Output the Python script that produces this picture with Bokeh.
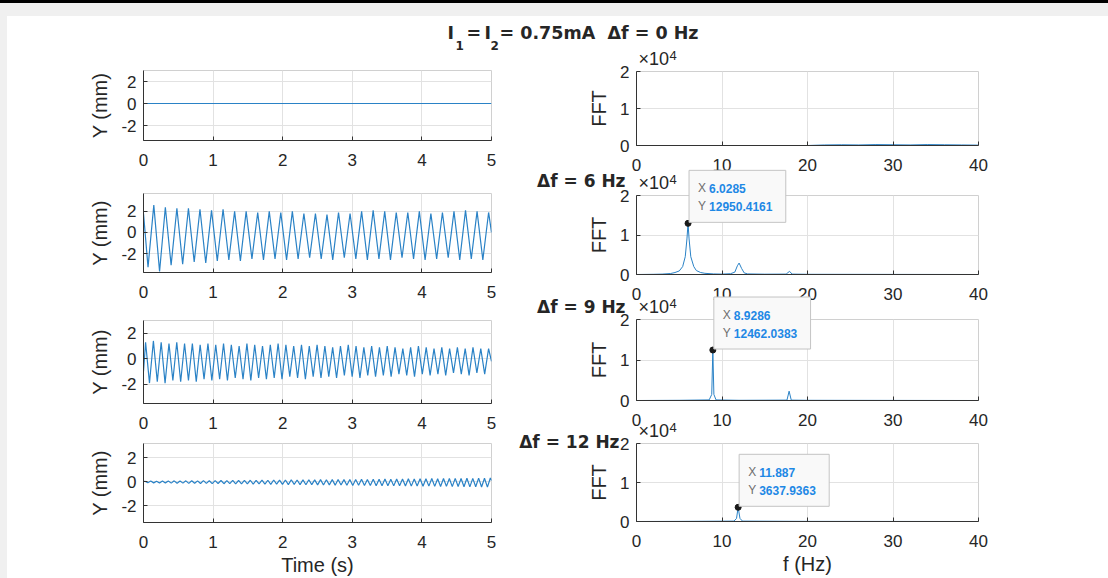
from bokeh.plotting import figure
from bokeh.models import FixedTicker, Label, Range1d
from bokeh.layouts import column
from bokeh.embed import file_html
from bokeh.resources import INLINE

# ---------------- data ----------------
time_ticks = [0, 1, 2, 3, 4, 5]
y_ticks = [-2, 0, 2]
y_tick_labels = ["-2", "0", "2"]
freq_ticks = [0, 10, 20, 30, 40]
fft_ticks = [0, 10000, 20000]
fft_tick_labels = ["0", "1", "2"]

title_parts = ["I", "1", "=", "I", "2", "= 0.75mA\u00a0\u00a0\u0394f = 0 Hz"]
delta_f_labels = ["\u0394f = 6 Hz", "\u0394f = 9 Hz", "\u0394f = 12 Hz"]

# time-domain rows: signal frequency (Hz) read from the oscillation count
sig_freq = [6.0285, 8.9286, 11.887]

# row 1 (df = 0 Hz): flat
t_row1 = [0, 5]
y_row1 = [0, 0]

# row 2 (df = 6 Hz): extrema values
start2, end2 = 1.8, 0.0
first_trough2, first_peak2 = 0.065, 0.148
peaks2 = [2.6, 2.4, 2.3, 2.3, 2.2, 2.1, 2.2, 2.0, 2.0, 1.9, 2.0, 1.9, 2.0, 1.8, 1.8,
          1.7, 1.9, 1.8, 2.0, 2.1, 2.0, 1.9, 1.9, 2.0, 1.8, 1.9, 2.0, 2.1, 2.0, 1.9]
troughs2 = [-3.3, -3.7, -3.1, -3.0, -2.8, -2.9, -2.7, -2.6, -2.7, -2.5, -2.6, -2.5, -2.6, -2.5, -2.4,
            -2.5, -2.6, -2.4, -2.5, -2.6, -2.5, -2.6, -2.4, -2.5, -2.6, -2.5, -2.4, -2.6, -2.5, -2.6]

# row 3 (df = 9 Hz)
start3, end3 = -1.0, -0.2
first_peak3, first_trough3 = 0.03, 0.086
peaks3 = [1.3, 1.4, 1.3, 1.2, 1.3, 1.2, 1.2, 1.1, 1.2, 1.1, 1.2, 1.1, 1.0, 1.2, 1.1,
          1.0, 1.1, 1.2, 1.1, 1.0, 1.1, 1.0, 1.1, 1.0, 0.9, 1.0, 1.1, 1.0, 0.9, 1.0,
          0.9, 1.0, 0.9, 0.8, 0.9, 1.0, 0.9, 0.8, 0.9, 0.8, 0.9, 0.8, 0.9, 0.8, 0.8]
troughs3 = [-1.9, -1.8, -1.9, -1.7, -1.8, -1.7, -1.8, -1.6, -1.7, -1.6, -1.7, -1.5, -1.6, -1.7, -1.5,
            -1.6, -1.5, -1.6, -1.4, -1.5, -1.6, -1.4, -1.5, -1.4, -1.5, -1.3, -1.4, -1.5, -1.3, -1.4,
            -1.3, -1.4, -1.2, -1.3, -1.4, -1.2, -1.3, -1.2, -1.3, -1.1, -1.2, -1.3, -1.1, -1.2]

# row 4 (df = 12 Hz)
start4, end4 = 0.0, 0.1
first_peak4, first_trough4 = 0.02, 0.062
peaks4 = [0.05, 0.06, 0.05, 0.07, 0.06, 0.08, 0.07, 0.08, 0.09, 0.08, 0.10, 0.09, 0.10, 0.11, 0.10,
          0.12, 0.11, 0.12, 0.13, 0.12, 0.14, 0.13, 0.15, 0.14, 0.15, 0.17, 0.15, 0.16, 0.17, 0.16,
          0.18, 0.17, 0.18, 0.19, 0.18, 0.20, 0.19, 0.21, 0.20, 0.22, 0.21, 0.23, 0.22, 0.24, 0.23,
          0.25, 0.24, 0.26, 0.25, 0.27, 0.26, 0.28, 0.27, 0.29, 0.28, 0.30, 0.29, 0.31, 0.30, 0.32]
troughs4 = [-0.08, -0.09, -0.10, -0.09, -0.11, -0.12, -0.11, -0.13, -0.12, -0.14, -0.13, -0.15, -0.14, -0.16, -0.15,
            -0.17, -0.18, -0.17, -0.19, -0.18, -0.20, -0.21, -0.20, -0.22, -0.24, -0.22, -0.23, -0.25, -0.24, -0.26,
            -0.27, -0.26, -0.28, -0.27, -0.29, -0.30, -0.29, -0.31, -0.30, -0.32, -0.33, -0.32, -0.34, -0.33, -0.35,
            -0.36, -0.35, -0.37, -0.36, -0.38, -0.39, -0.38, -0.40, -0.39, -0.41, -0.42, -0.41, -0.43, -0.44]

# FFT spectra (frequency Hz, magnitude)
f_fft1 = [0, 5, 10, 15, 20, 22, 24, 26, 28, 30, 32, 34, 36, 38, 40]
a_fft1 = [0, 0, 0, 0, 0, 150, 200, 150, 250, 200, 150, 250, 200, 150, 100]
f_fft2 = [0, 2, 3, 4, 4.5, 5, 5.4, 5.7, 5.9, 6.0285, 6.15, 6.35, 6.7, 7, 7.5, 8, 9, 10, 11, 11.5,
          11.8, 12.0, 12.3, 12.6, 13, 15, 17.5, 17.9, 18.2, 20, 40]
a_fft2 = [0, 50, 100, 250, 500, 900, 2000, 4500, 9000, 12950.4161, 9000, 4500, 2000, 1000, 500, 300, 150, 100, 200, 600,
          2200, 2900, 1500, 400, 150, 80, 100, 800, 100, 50, 0]
f_fft3 = [0, 5, 8.5, 8.8, 8.9286, 9.05, 9.3, 12, 17.6, 17.85, 18.1, 20, 40]
a_fft3 = [0, 50, 150, 1500, 12462.0383, 1500, 150, 50, 100, 2300, 100, 50, 0]
f_fft4 = [0, 5, 11.4, 11.7, 11.887, 12.1, 12.4, 20, 40]
a_fft4 = [0, 30, 100, 800, 3637.9363, 800, 100, 30, 0]

# data tips
tip_x = [6.0285, 8.9286, 11.887]
tip_y = [12950.4161, 12462.0383, 3637.9363]
tip_x_text = ["6.0285", "8.9286", "11.887"]
tip_y_text = ["12950.4161", "12462.0383", "3637.9363"]

# ---------------- helpers ----------------
W, H = 1108, 578
FONT = "Liberation Sans"
TFONT = "DejaVu Sans"
TXT = "#262626"
LINE = "#2a82c6"
FFT_MAX = 20000
F_MAX = 40


def zigzag(start, end, t_first_a, vals_a, t_first_b, vals_b, freq):
    period = 1.0 / freq
    pts = [(0.0, start)]
    pts += [(t_first_a + i * period, v) for i, v in enumerate(vals_a)]
    pts += [(t_first_b + i * period, v) for i, v in enumerate(vals_b)]
    pts = sorted(p for p in pts if p[0] <= 5.0)
    pts.append((5.0, end))
    return [p[0] for p in pts], [p[1] for p in pts]


def panel(left, top, fw, fh, xr, yr, xticks, yticks, ylabel, xlabel, yover):
    p = figure(width=W, height=H, output_backend="svg", toolbar_location=None,
               x_range=Range1d(*xr), y_range=Range1d(*yr),
               min_border_left=left, min_border_top=top,
               min_border_right=W - left - fw, min_border_bottom=H - top - fh)
    p.frame_align = False
    p.border_fill_color = None
    p.background_fill_color = None
    p.outline_line_color = "#d0d0d0"
    p.xaxis.ticker = FixedTicker(ticks=xticks)
    p.yaxis.ticker = FixedTicker(ticks=yticks)
    p.yaxis.major_label_overrides = yover
    for ax in (p.xaxis[0], p.yaxis[0]):
        ax.axis_line_color = "#333333"
        ax.major_tick_line_color = "#333333"
        ax.major_tick_in = 4
        ax.major_tick_out = 0
        ax.minor_tick_line_color = None
        ax.major_label_text_font = FONT
        ax.major_label_text_font_size = "17px"
        ax.major_label_text_color = TXT
        ax.axis_label_text_font = FONT
        ax.axis_label_text_font_size = "20px"
        ax.axis_label_text_font_style = "normal"
        ax.axis_label_text_color = TXT
    p.xaxis.major_label_standoff = 13
    p.yaxis.major_label_standoff = 7
    p.yaxis.axis_label = ylabel
    p.yaxis.axis_label_standoff = 7
    if xlabel:
        p.xaxis.axis_label = xlabel
        p.xaxis.axis_label_standoff = 3
    p.xgrid.grid_line_color = "#e2e2e2"
    p.ygrid.grid_line_color = "#e2e2e2"
    return p


def lab(p, x, y, text, size, color=TXT, font=FONT, bold=False, anchor="center_left", **kw):
    p.add_layout(Label(x=x, y=y, x_units="data", y_units="data", text=text,
                       text_font=font, text_font_size=size,
                       text_color=color, text_font_style="bold" if bold else "normal",
                       anchor=anchor, **kw))


# ---------------- panels ----------------
LX, LW = 143, 348
RX, RW = 636, 342
left_rows = [(70, 70, (-3.36, 3.0)), (193, 79, (-3.8, 3.7)), (320, 83, (-3.5, 3.0)), (443, 79, (-3.4, 3.2))]
right_rows = [(71, 74), (195, 79), (319, 81), (443, 78)]

t2, y2 = zigzag(start2, end2, first_trough2, troughs2, first_peak2, peaks2, sig_freq[0])
t3, y3 = zigzag(start3, end3, first_peak3, peaks3, first_trough3, troughs3, sig_freq[1])
t4, y4 = zigzag(start4, end4, first_peak4, peaks4, first_trough4, troughs4, sig_freq[2])
time_series = [(t_row1, y_row1), (t2, y2), (t3, y3), (t4, y4)]
ffts = [(f_fft1, a_fft1), (f_fft2, a_fft2), (f_fft3, a_fft3), (f_fft4, a_fft4)]

y_over = dict(zip(y_ticks, y_tick_labels))
fft_over = dict(zip(fft_ticks, fft_tick_labels))

figs = []
for i in range(4):
    top, fh, yr = left_rows[i]
    L = panel(LX, top, LW, fh, (0, 5), yr, time_ticks, y_ticks, "Y (mm)",
              "Time (s)" if i == 3 else None, y_over)
    L.line(time_series[i][0], time_series[i][1], color=LINE, line_width=1.2)

    rtop, rfh = right_rows[i]
    R = panel(RX, rtop, RW, rfh, (0, F_MAX), (0, FFT_MAX), freq_ticks, fft_ticks, "FFT",
              "f (Hz)" if i == 3 else None, fft_over)
    R.line(ffts[i][0], ffts[i][1], color=LINE, line_width=1)
    if i > 0:
        R.scatter([tip_x[i - 1]], [tip_y[i - 1]], size=6, color="#1a1a1a")
    figs += [L, R]

# ---------------- overlay for texts drawn outside the axes boxes ----------------
O = figure(width=W, height=H, output_backend="svg", toolbar_location=None,
           x_range=Range1d(0, W), y_range=Range1d(H, 0),
           x_axis_location=None, y_axis_location=None, title=None,
           min_border_left=0, min_border_right=0, min_border_top=0, min_border_bottom=0)
O.frame_align = False
O.border_fill_color = None
O.background_fill_color = None
O.outline_line_color = None
O.grid.visible = False

# main title
title_pos = [(447, 32), (455, 45), (466, 32), (484, 32), (490, 45), (499, 32)]
title_sizes = ["17.5px", "12px", "17.5px", "17.5px", "12px", "17.5px"]
for txt, (x, y), sz in zip(title_parts, title_pos, title_sizes):
    lab(O, x, y, txt, sz, font=TFONT, bold=True)

# x10^4 exponent labels of the FFT panels
for rtop, rfh in right_rows:
    lab(O, RX + 2, rtop - 3, "\u00d710", "18px", anchor="bottom_left")
    lab(O, RX + 33, rtop - 12, "4", "13px", anchor="bottom_left")

# per-row delta-f labels
df_pos = [(625, 15), (625, 13), (619, 2)]
for k, ((x, dy), txt) in enumerate(zip(df_pos, delta_f_labels)):
    lab(O, x, right_rows[k + 1][0] - dy, txt, "17px", font=TFONT, bold=True, anchor="center_right")

# data tips (anchored at the data point, converted through the FFT panel geometry)
for k in range(3):
    rtop, rfh = right_rows[k + 1]
    px = RX + tip_x[k] / F_MAX * RW
    py = rtop + rfh - tip_y[k] / FFT_MAX * rfh
    lab(O, px + 1, py - 1, "Y " + tip_y_text[k], "12px", color="#f9f9f9", bold=True,
        anchor="bottom_left", background_fill_color="#f9f9f9", border_line_color="#c4c4c4",
        padding=dict(left=9, right=13, top=19, bottom=19))
    lab(O, px + 10, py - 35, "X", "12px", color="#6e6e6e")
    lab(O, px + 10, py - 17, "Y", "12px", color="#6e6e6e")
    lab(O, px + 21, py - 35, tip_x_text[k], "12px", color="#1e88e5", bold=True)
    lab(O, px + 21, py - 17, tip_y_text[k], "12px", color="#1e88e5", bold=True)

figs.append(O)
for f in figs[1:]:
    f.margin = (-H, 0, 0, 0)
figs[0].margin = (0, 0, 0, 0)

bg = ("linear-gradient(#000000 0px, #000000 3px, #f0f0f0 3px, #f0f0f0 16px, rgba(255,255,255,0) 16px), "
      "linear-gradient(90deg, #f0f0f0 0px, #f0f0f0 7px, #ffffff 7px)")
layout = column(*figs, styles={"background": bg})

open("out.html", "w").write(file_html(layout, INLINE))
